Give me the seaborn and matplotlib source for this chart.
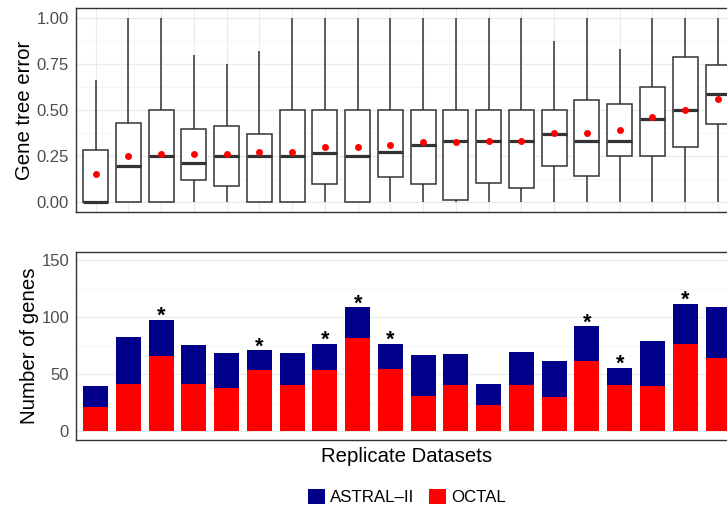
import numpy as np
import pandas as pd
import matplotlib
matplotlib.use("Agg")
import matplotlib.pyplot as plt
import seaborn as sns
from matplotlib.patches import Patch
from matplotlib.ticker import MultipleLocator

replicates = [f"R{i}" for i in range(1, 21)]

# gene tree error, five-number summary + mean per replicate
err_low = [0.0] * 20
err_q1 = [0.0, 0.0, 0.0, 0.123, 0.09, 0.0, 0.0, 0.10, 0.0, 0.141,
          0.10, 0.013, 0.107, 0.078, 0.20, 0.143, 0.25, 0.25, 0.30, 0.428]
err_median = [0.0, 0.20, 0.25, 0.215, 0.25, 0.25, 0.25, 0.268, 0.25, 0.273,
              0.313, 0.335, 0.335, 0.335, 0.374, 0.335, 0.335, 0.452, 0.503, 0.591]
err_q3 = [0.287, 0.434, 0.50, 0.40, 0.418, 0.374, 0.50, 0.50, 0.50, 0.50,
          0.50, 0.50, 0.50, 0.50, 0.50, 0.557, 0.537, 0.626, 0.789, 0.745]
err_high = [0.665, 1.0, 1.0, 0.80, 0.752, 0.824, 1.0, 1.0, 1.0, 1.0,
            1.0, 1.0, 1.0, 1.0, 0.877, 1.0, 0.834, 1.0, 1.0, 1.0]
err_mean = [0.154, 0.25, 0.262, 0.264, 0.264, 0.275, 0.277, 0.30, 0.304, 0.311,
            0.329, 0.331, 0.333, 0.336, 0.376, 0.38, 0.396, 0.463, 0.503, 0.561]

# number of genes per method
octal_genes = [21, 42, 66, 42, 38, 54, 41, 54, 82, 55,
               31, 41, 23, 41, 30, 62, 41, 40, 77, 64]
astral_genes = [19, 41, 32, 34, 31, 17, 28, 23, 27, 22,
                36, 27, 19, 29, 32, 30, 15, 39, 35, 45]
significant = [False, False, True, False, False, True, False, True, True, True,
               False, False, False, False, False, True, True, False, True, False]

total_genes = [a + o for a, o in zip(astral_genes, octal_genes)]

rows = []
for r, lo, q1, md, q3, hi in zip(replicates, err_low, err_q1, err_median, err_q3, err_high):
    for v in (lo, q1, md, q3, hi):
        rows.append({"rep": r, "err": v})
box_df = pd.DataFrame(rows)

plt.rcParams['font.family'] = ['Liberation Sans', 'DejaVu Sans']
navy = "#00008B"
red = "#FF0000"
edge = "#333333"
tick_col = "#4D4D4D"

fig = plt.figure(figsize=(7.27, 5.09), dpi=100)
W, H = 727, 509
ax1 = fig.add_axes([76 / W, 1 - 211.7 / H, (737.6 - 76) / W, (211.7 - 8.3) / H])
ax2 = fig.add_axes([76 / W, 1 - 440 / H, (737.6 - 76) / W, (440 - 251.7) / H])

sns.boxplot(data=box_df, x="rep", y="err", order=replicates, whis=(0, 100),
            color="white", linecolor=edge, linewidth=1.1, width=0.76,
            showcaps=False, medianprops={"linewidth": 2.3, "color": edge},
            ax=ax1)
sns.stripplot(x=replicates, y=err_mean, order=replicates, jitter=False,
              color=red, size=5, linewidth=0, ax=ax1, zorder=5)

sns.barplot(x=replicates, y=total_genes, order=replicates, color=navy,
            saturation=1, width=0.76, ax=ax2)
sns.barplot(x=replicates, y=octal_genes, order=replicates, color=red,
            saturation=1, width=0.76, ax=ax2)
for i, (tot, sig) in enumerate(zip(total_genes, significant)):
    if sig:
        ax2.text(i, tot - 2.0, "*", ha="center", va="baseline", fontsize=15.5,
                 fontweight="bold", color="black")

for ax in (ax1, ax2):
    ax.set_xlim(-0.6, 19.6)
    ax.set_axisbelow(True)
    ax.tick_params(axis="x", length=0, labelbottom=False)
    ax.tick_params(axis="y", which="major", length=0,
                   labelsize=12, labelcolor=tick_col, pad=5)
    ax.tick_params(axis="y", which="minor", length=0)
    for s in ax.spines.values():
        s.set_color(edge)
        s.set_linewidth(1.0)
    ax.set_xlabel("")

ax1.set_ylim(-0.05, 1.055)
ax1.yaxis.set_major_locator(MultipleLocator(0.25))
ax1.yaxis.set_minor_locator(MultipleLocator(0.125))
ax1.set_yticks([0, 0.25, 0.5, 0.75, 1.0])
ax1.set_yticklabels(["0.00", "0.25", "0.50", "0.75", "1.00"])
ax1.grid(which="major", color="#EBEBEB", linewidth=0.9)
ax1.grid(which="minor", axis="y", color="#F4F4F4", linewidth=0.6)
ax1.set_ylabel("Gene tree error", fontsize=14.7, labelpad=2)

ax2.set_ylim(-7.5, 157.5)
ax2.yaxis.set_major_locator(MultipleLocator(50))
ax2.yaxis.set_minor_locator(MultipleLocator(25))
ax2.grid(which="major", axis="y", color="#EBEBEB", linewidth=0.9)
ax2.grid(which="minor", axis="y", color="#F4F4F4", linewidth=0.6)
ax2.xaxis.grid(False)
ax2.set_ylabel("Number of genes", fontsize=14.7, labelpad=2)
ax2.set_xlabel("Replicate Datasets", fontsize=14.7, labelpad=5)

handles = [Patch(facecolor=navy, label="ASTRAL\u2013II"), Patch(facecolor=red, label="OCTAL")]
fig.legend(handles=handles, loc="center", bbox_to_anchor=(0.56, 0.024), ncol=2,
           frameon=False, fontsize=12.2, handlelength=1.0, handleheight=1.0,
           handletextpad=0.3, columnspacing=0.9)

fig.savefig("out.png", dpi=100)
